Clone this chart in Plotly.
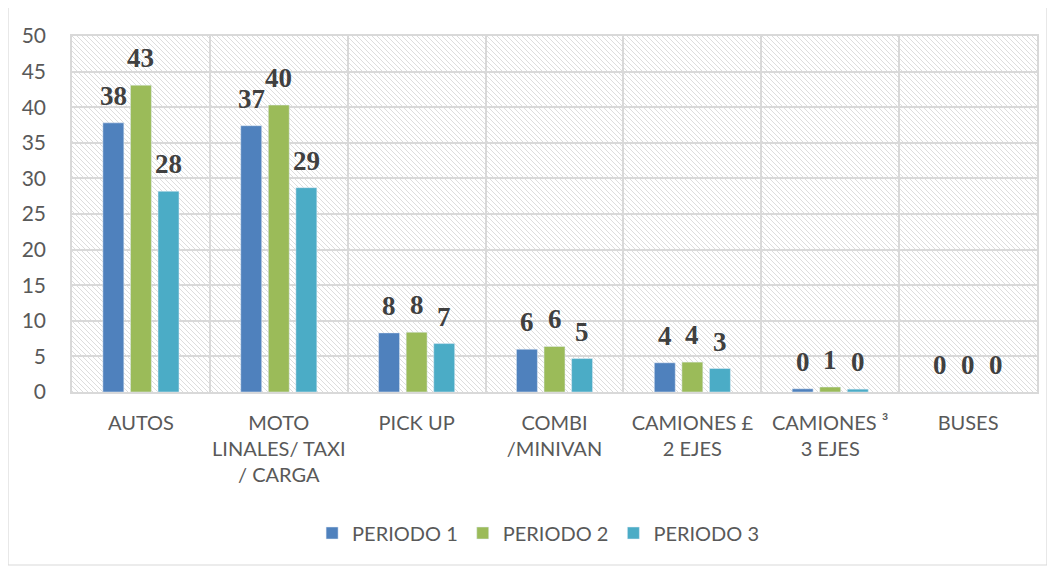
import base64
import plotly.graph_objects as go

categories = ["AUTOS", "MOTO<br>LINALES/ TAXI<br>/ CARGA", "PICK UP", "COMBI<br>/MINIVAN",
              "CAMIONES £<br>2 EJES", "CAMIONES ³<br>3 EJES", "BUSES"]
periodo1 = [37.8, 37.4, 8.3, 6.0, 4.1, 0.45, 0.0]
periodo2 = [43.1, 40.3, 8.4, 6.4, 4.2, 0.7, 0.0]
periodo3 = [28.2, 28.7, 6.8, 4.7, 3.3, 0.4, 0.0]
series_names = ["PERIODO 1", "PERIODO 2", "PERIODO 3"]
series_values = [periodo1, periodo2, periodo3]
colors = ["#4F81BD", "#9BBB59", "#4BACC6"]

# page body has an 8px offset; positions below are in page pixels minus that offset
OFF = 8
W, H = 1055 - OFF, 570 - OFF
L, T = 72 - OFF, 36 - OFF
pw, ph = 965, 356
R, B = W - L - pw, H - T - ph
BARGAP, GROUPGAP = 0.4, 0.24
slot = (1 - BARGAP) * (pw / len(categories)) / len(series_names)

def px(x):
    return (x - OFF - L) / pw

def py(y):
    return (T + ph - (y - OFF)) / ph

fig = go.Figure()
annotations = []
n = len(series_names)
for i, (name, vals, col) in enumerate(zip(series_names, series_values, colors)):
    fig.add_trace(go.Bar(x=categories, y=vals, name=name, marker_color=col))
    for c, v in zip(categories, vals):
        annotations.append(dict(
            x=c, y=v, xref="x", yref="y", text="<b>%d</b>" % round(v), showarrow=False,
            xshift=(i - (n - 1) / 2) * slot, yshift=10, yanchor="bottom", xanchor="center",
            font=dict(family="Liberation Serif", size=27, color="#404040"),
        ))

# hatched plot background
svg = ('<svg xmlns="http://www.w3.org/2000/svg" width="965" height="356">'
       '<defs><pattern id="p" width="5" height="5" patternUnits="userSpaceOnUse">'
       '<path d="M0,0 L5,5 M-1,4 L1,6 M4,-1 L6,1" stroke="#d4d4d4" stroke-width="0.8"/>'
       '</pattern></defs><rect width="100%" height="100%" fill="white"/>'
       '<rect width="100%" height="100%" fill="url(#p)"/></svg>')
uri = "data:image/svg+xml;base64," + base64.b64encode(svg.encode()).decode()

fig.update_layout(
    width=W, height=H,
    margin=dict(l=L, r=R, t=T, b=B, autoexpand=False),
    paper_bgcolor="white", plot_bgcolor="rgba(0,0,0,0)",
    barmode="group", bargap=BARGAP, bargroupgap=GROUPGAP,
    font=dict(family="Lato", size=20, color="#595959"),
    showlegend=True,
    legend=dict(orientation="h", x=0.483, xanchor="center", y=py(533), yanchor="middle",
                font=dict(family="Lato", size=20, color="#595959"),
                itemwidth=30, tracegroupgap=0),
    annotations=annotations,
    images=[dict(source=uri, xref="paper", yref="paper", x=0, y=1, sizex=1, sizey=1,
                 xanchor="left", yanchor="top", sizing="stretch", layer="below")],
    shapes=[dict(type="rect", xref="paper", yref="paper",
                 x0=px(8), x1=px(1047), y0=py(565), y1=py(5),
                 line=dict(color="#d9d9d9", width=1.2), fillcolor="rgba(0,0,0,0)", layer="below")],
)
fig.update_xaxes(showgrid=True, gridcolor="#d9d9d9", gridwidth=1.5, tickson="boundaries",
                 showline=True, linecolor="#d9d9d9", linewidth=1.5, mirror=True,
                 ticks="", tickangle=0, tickfont=dict(family="Lato", size=20, color="#595959"),
                 ticklabelstandoff=12)
fig.update_yaxes(range=[0, 50], dtick=5, showgrid=True, gridcolor="#d9d9d9", gridwidth=1.5,
                 showline=True, linecolor="#d9d9d9", linewidth=1.5, mirror=True,
                 zeroline=False, ticks="", tickfont=dict(family="Lato", size=21, color="#595959"),
                 ticklabelstandoff=20)

fig.write_html("out.html")
